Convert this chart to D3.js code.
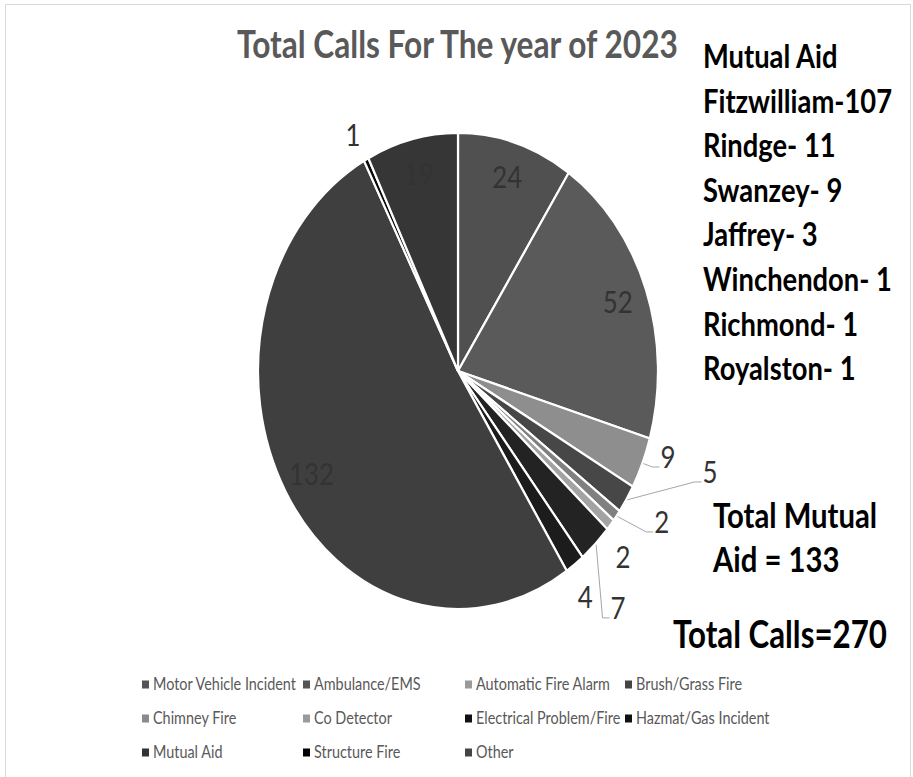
<!DOCTYPE html>
<html>
<head>
<meta charset="utf-8">
<script src="https://cdn.jsdelivr.net/npm/d3@7"></script>
<style>
  html, body { margin: 0; padding: 0; background: #fff; }
  svg { display: block; }
</style>
</head>
<body>
<script>
// ---------------- data ----------------
const categories = ["Motor Vehicle Incident", "Ambulance/EMS", "Automatic Fire Alarm", "Brush/Grass Fire",
  "Chimney Fire", "Co Detector", "Electrical Problem/Fire", "Hazmat/Gas Incident",
  "Mutual Aid", "Structure Fire", "Other"];
const values = [24, 52, 9, 5, 2, 2, 7, 4, 132, 1, 19];
const sliceColors = ["#505050", "#5a5a5a", "#8e8e8e", "#474747", "#808080", "#a3a3a3",
  "#232323", "#1c1c1c", "#3f3f3f", "#0a0a0a", "#363636"];
const legendColors = ["#555555", "#555555", "#9a9a9a", "#444444", "#8a8a8a", "#9a9a9a",
  "#111111", "#111111", "#333333", "#000000", "#444444"];
const titleText = "Total Calls For The year of 2023";
const mutualAidLines = ["Mutual Aid", "Fitzwilliam-107", "Rindge- 11", "Swanzey- 9", "Jaffrey- 3",
  "Winchendon- 1", "Richmond- 1", "Royalston- 1"];
const totalMutualLines = ["Total Mutual", "Aid = 133"];
const totalCallsText = "Total Calls=270";

// ---------------- layout ----------------
const W = 913, H = 777;
const SY = 1.19;            // vertical stretch of the picture
const cx = 458, cy = 371, R = 200;
// label placement per slice: inside at mid angle, or outside at given angle/radius
const labelPlacement = [
  {r: 0.85}, {r: 0.85},
  {angle: 109.0, r: 1.11, leader: true},
  {angle: 108.6, r: 1.33, leader: true},
  {angle: 121.9, r: 1.20, leader: true},
  {angle: 133.5, r: 1.137},
  {angle: 141.2, r: 1.277, leader: true},
  {angle: 146.2, r: 1.143},
  {r: 0.85},
  {angle: 332.1, r: 1.122},
  {r: 0.85}
];
const legendColX = [142, 303, 465, 625];
const legendRowY = [690, 724, 758];

const svg = d3.select("body").append("svg").attr("width", W).attr("height", H);
svg.append("rect").attr("width", W).attr("height", H).attr("fill", "#fff");
svg.append("rect").attr("x", 5.5).attr("y", 4.5).attr("width", 905).attr("height", 790)
  .attr("fill", "none").attr("stroke", "#d9d9d9").attr("stroke-width", 1);

function fit(sel, width) {
  const fs = parseFloat(sel.attr("font-size"));
  const w = sel.node().getComputedTextLength();
  sel.attr("font-size", fs * width / w);
  return fs * width / w;
}
function stretchedText(x, y, txt) {
  return svg.append("text").attr("transform", `translate(${x},${y}) scale(1,${SY})`).text(txt);
}

// ---------------- title ----------------
const title = stretchedText(237, 58, titleText)
  .attr("font-family", "Lato, 'Open Sans', sans-serif").attr("font-weight", 700)
  .attr("font-size", 30).attr("fill", "#595959");
fit(title, 441);

// ---------------- pie ----------------
const pie = d3.pie().sort(null).value(d => d);
const arcs = pie(values);
const arc = d3.arc().innerRadius(0).outerRadius(R);
const g = svg.append("g").attr("transform", `translate(${cx},${cy}) scale(1,${SY})`);
g.selectAll("path").data(arcs).join("path")
  .attr("d", arc)
  .attr("fill", (d, i) => sliceColors[i])
  .attr("stroke", "#fff").attr("stroke-width", 2.2)
  .attr("vector-effect", "non-scaling-stroke");

// ---------------- data labels ----------------
const rad = a => a * Math.PI / 180;
function polar(angleDeg, r) {
  return [cx + r * R * Math.sin(rad(angleDeg)), cy - r * R * Math.cos(rad(angleDeg)) * SY];
}
let labelFont = 24;
const probe = svg.append("text").attr("font-family", "Lato, sans-serif").attr("font-size", 24).text("24");
labelFont = 24 * 30 / probe.node().getComputedTextLength();
probe.remove();

arcs.forEach((a, i) => {
  const p = labelPlacement[i];
  const mid = (a.startAngle + a.endAngle) / 2 * 180 / Math.PI;
  const ang = p.angle !== undefined ? p.angle : mid;
  const [lx, ly] = polar(ang, p.r);
  const t = svg.append("text")
    .attr("transform", `translate(${lx},${ly}) scale(1,${SY})`)
    .attr("text-anchor", "middle").attr("dy", "0.36em")
    .attr("font-family", "Lato, sans-serif").attr("font-size", labelFont)
    .attr("fill", "#333333").text(values[i]);
  if (p.leader) {
    const half = t.node().getComputedTextLength() / 2;
    const [sx, sy] = polar(mid, 1.005);
    const ex = lx - half - 1, ey = ly + 10;
    svg.append("path")
      .attr("d", `M${sx},${sy}L${ex - 7},${ey}L${ex},${ey}`)
      .attr("fill", "none").attr("stroke", "#a6a6a6").attr("stroke-width", 1);
  }
});

// ---------------- mutual aid text block ----------------
const maSel = mutualAidLines.map((s, i) => stretchedText(703, 68 + i * 44.6, s)
  .attr("font-family", "Lato, sans-serif").attr("font-weight", 700)
  .attr("font-size", 24).attr("fill", "#000"));
const maFs = fit(maSel[1], 189);
maSel.forEach(s => s.attr("font-size", maFs));

const tmSel = totalMutualLines.map((s, i) => stretchedText(713, 528 + i * 44, s)
  .attr("font-family", "Lato, sans-serif").attr("font-weight", 700)
  .attr("font-size", 26).attr("fill", "#000"));
const tmFs = fit(tmSel[0], 164);
tmSel[1].attr("font-size", tmFs);

const tc = stretchedText(673, 648, totalCallsText)
  .attr("font-family", "Lato, sans-serif").attr("font-weight", 700)
  .attr("font-size", 30).attr("fill", "#000");
fit(tc, 214);

// ---------------- legend ----------------
const legendItems = categories.map((c, i) => ({c, i}));
let legFs = 14;
const lp = svg.append("text").attr("font-family", "Lato, sans-serif").attr("font-size", 14).text(categories[0]);
legFs = 14 * 143 / lp.node().getComputedTextLength();
lp.remove();
legendItems.forEach(({c, i}) => {
  const col = i % 4, row = Math.floor(i / 4);
  const x = legendColX[col], y = legendRowY[row];
  svg.append("rect").attr("x", x).attr("y", y - 9.5).attr("width", 7).attr("height", 8)
    .attr("fill", legendColors[i]);
  svg.append("text").attr("transform", `translate(${x + 11},${y}) scale(1,${SY})`)
    .attr("font-family", "Lato, sans-serif").attr("font-size", legFs)
    .attr("fill", "#595959").text(c);
});
</script>
</body>
</html>
